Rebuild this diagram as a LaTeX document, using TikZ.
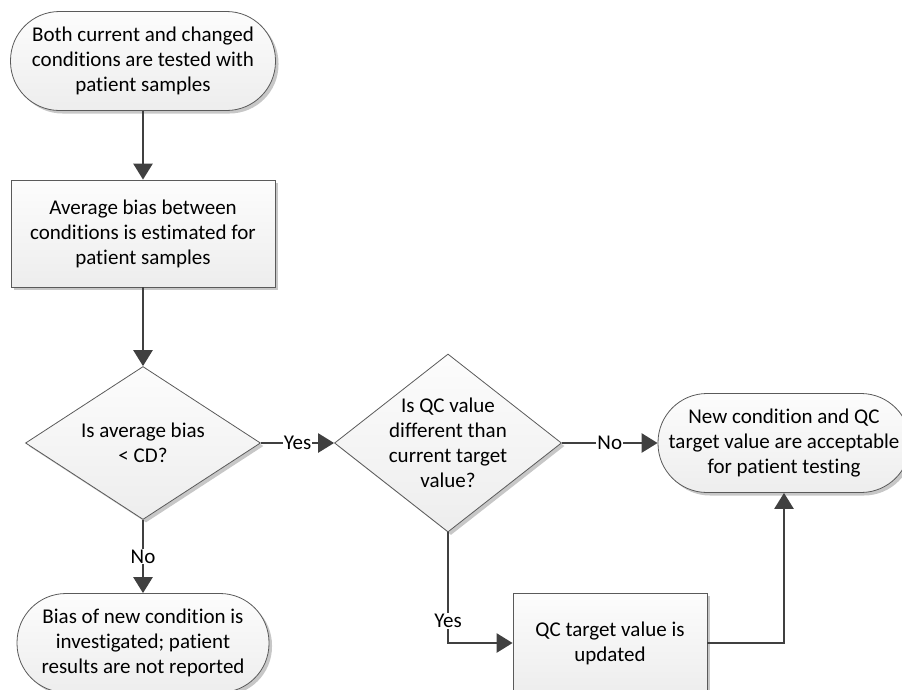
\documentclass[tikz,border=0pt]{standalone}
\usepackage{fontspec}
\setmainfont{Carlito}[Ligatures=NoCommon]
\usetikzlibrary{shapes.geometric,arrows.meta,shadows}
\definecolor{linec}{HTML}{404040}
\definecolor{bordc}{HTML}{5A5A5A}
\tikzset{
  base/.style={draw=bordc, line width=0.8pt, top color=gray!2, bottom color=gray!14,
    drop shadow={shadow xshift=3pt, shadow yshift=-3pt, fill=black, opacity=0.22},
    align=center, inner sep=0pt},
  term/.style={base, rectangle, rounded corners=49pt, minimum width=#1, minimum height=99pt},
  procbox/.style={base, rectangle, minimum width=#1},
  decis/.style={base, diamond, inner sep=0pt},
  conn/.style={draw=linec, line width=2.6pt, -{Triangle[length=16pt,width=19pt]}},
  lbl/.style={fill=white, inner sep=1pt},
  txt/.style={align=center, inner sep=0pt}
}
\begin{document}
\begin{tikzpicture}[x=1pt,y=-1pt,font=\fontsize{21pt}{25pt}\selectfont]
\useasboundingbox (0,0) rectangle (902,689);
\clip (0,0) rectangle (902,689);

\node[term=265pt] (t1) at (143,61) {Both current and changed\\conditions are tested with\\patient samples};
\node[procbox=264pt, minimum height=107pt] (r1) at (143,233.5) {Average bias between\\conditions is estimated for\\patient samples};
\node[decis, minimum width=235pt, minimum height=153pt] (d1) at (143,443) {};
\node[txt] (d1txt) at (143,443) {Is average bias\\< CD?};
\node[decis, minimum width=227pt, minimum height=178pt] (d2) at (448,443) {};
\node[txt] (d2txt) at (448,443) {Is QC value\\different than\\current target\\value?};
\node[term=252pt] (t2) at (784,443) {New condition and QC\\target value are acceptable\\for patient testing};
\node[term=252pt] (t3) at (143,643) {Bias of new condition is\\investigated; patient\\results are not reported};
\node[procbox=194pt, minimum height=100pt] (r2) at (610,643) {QC target value is\\updated};

\draw[conn] (t1.south) -- (r1.north);
\draw[conn] (r1.south) -- (d1.north);
\draw[conn] (d1.east) -- node[lbl] (lyes1) {Yes} (d2.west);
\draw[conn] (d1.south) -- node[lbl] (lno1) {No} (t3.north);
\draw[conn] (d2.east) -- node[lbl] (lno2) {No} (t2.west);
\draw[conn] (d2.south) |- node[lbl, pos=0.4] (lyes2) {Yes} (r2.west);
\draw[conn] (r2.east) -| (t2.south);
\end{tikzpicture}
\end{document}
